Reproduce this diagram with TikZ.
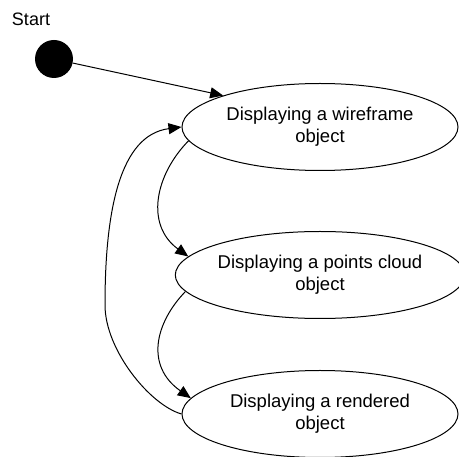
\documentclass[tikz,border=0pt]{standalone}
\usepackage{fontspec}
\setmainfont{Liberation Sans}
\usetikzlibrary{shapes.geometric,arrows.meta}
\begin{document}
\begin{tikzpicture}[x=1pt,y=-1pt,
  state/.style={draw,ellipse,line width=1pt,minimum width=276pt,minimum height=87pt,inner sep=0pt,
    align=center,font=\fontsize{18.5}{22}\selectfont},
  conn/.style={line width=1pt,-{Triangle[length=13pt,width=11pt]}},
  lbl/.style={font=\fontsize{18}{22}\selectfont,inner sep=0pt}]
\useasboundingbox (0,0) rectangle (459,457);
\node[lbl] (startlbl) at (31,19) {Start};
\node[circle,fill=black,minimum size=38pt,inner sep=0pt] (start) at (54,59) {};
\node[state] (e1) at (320,127) {Displaying a wireframe\\object};
\node[state] (e2) at (320,275) {Displaying a points cloud\\object};
\node[state] (e3) at (320,414) {Displaying a rendered\\object};
\draw[conn] (start) -- (e1.162);
\draw[conn] (e1.186) .. controls (155,175) and (145,225) .. (e2.172);
\draw[conn] (e2.187) .. controls (155,323) and (145,366) .. (e3.173);
\coordinate (m) at (105,305);
\draw[conn] (e3.west) .. controls (150,405) and (105,350) .. (m)
  .. controls (105,210) and (120,135) .. (e1.west);
\end{tikzpicture}
\end{document}
